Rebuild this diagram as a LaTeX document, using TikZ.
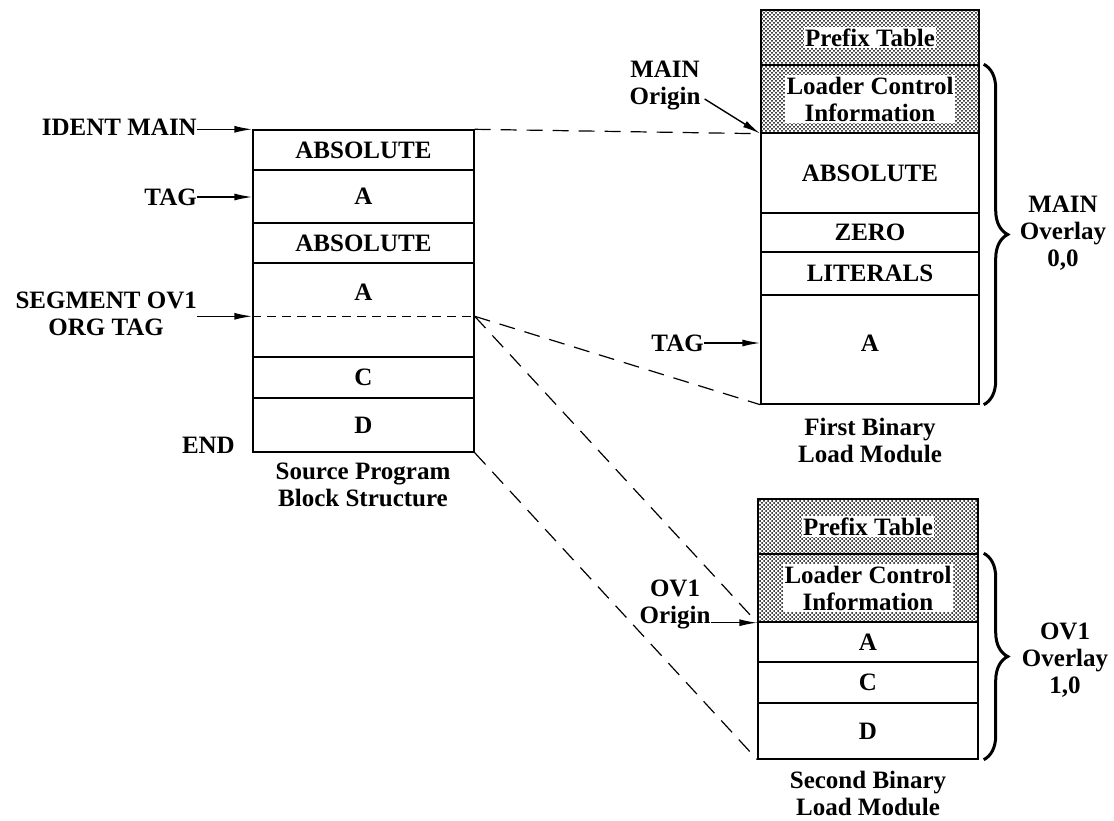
\documentclass[tikz,border=0pt]{standalone}
\usepackage{fontspec}
\setmainfont{Liberation Serif}
\usepackage{tikz}
\usetikzlibrary{arrows.meta,positioning,patterns,decorations.pathreplacing}
\pgfdeclarepatternformonly{scrdots}{\pgfqpoint{-1pt}{-1pt}}{\pgfqpoint{5pt}{5pt}}{\pgfqpoint{4pt}{4pt}}{%
  \pgfpathcircle{\pgfqpoint{0pt}{0pt}}{1pt}%
  \pgfpathcircle{\pgfqpoint{2pt}{2pt}}{1pt}%
  \pgfusepath{fill}}

\begin{document}
\begin{tikzpicture}[x=1pt, y=-1pt, >={Latex[length=18pt,width=7pt]},
    font=\fontsize{25}{27}\selectfont\bfseries,
    cell/.style={draw, line width=1.4pt, minimum width=220pt, inner sep=0pt},
    shaded/.style={cell, pattern=scrdots},
    boxtext/.style={fill=white, inner sep=1.5pt, align=center},
    lbl/.style={align=center, inner sep=0pt},
    arr/.style={->, line width=1.4pt},
    link/.style={line width=1.2pt, dash pattern=on 16pt off 10pt},
    brc/.style={decorate, decoration={brace, amplitude=24pt}, line width=3pt}]
    \useasboundingbox (0,0) rectangle (1114,821);

    % source program blocks
    \node [cell, minimum width=221pt, minimum height=40pt] (s1) at (363.5,150) {ABSOLUTE};
    \node [cell, minimum width=221pt, minimum height=53pt] (s2) at (363.5,196.5) {A};
    \node [cell, minimum width=221pt, minimum height=40pt] (s3) at (363.5,243) {ABSOLUTE};
    \node [cell, minimum width=221pt, minimum height=94pt] (s4) at (363.5,310) {};
    \node [lbl] (s4t) at (363.5,292) {A};
    \node [cell, minimum width=221pt, minimum height=41pt] (s5) at (363.5,377.5) {C};
    \node [cell, minimum width=221pt, minimum height=54pt] (s6) at (363.5,425) {D};
    \coordinate (segL) at ([yshift=-54pt]s4.north west);
    \coordinate (segR) at ([yshift=-54pt]s4.north east);
    \draw [line width=1pt, dash pattern=on 9pt off 6pt] (segL) -- (segR);

    \node [lbl, anchor=east] (ident) at (197,127) {IDENT MAIN};
    \node [lbl, anchor=east] (tagA) at (197,197) {TAG};
    \node [lbl, anchor=east] (seg) at (197,314) {SEGMENT OV1\\ORG TAG};
    \node [lbl, anchor=east] (endl) at (235,445) {END};
    \node [lbl] (cap0) at (363,485) {Source Program\\Block Structure};

    \draw [arr] (ident.east |- s1.north west) -- (s1.north west);
    \draw [arr] (tagA.east) -- (tagA.east -| s2.west);
    \draw [arr] (seg.east |- segL) -- (segL);

    % first binary load module
    \node [shaded, minimum width=218pt, minimum height=55pt] (p1) at (870,37.5) {};
    \node [boxtext] (p1t) at (p1) {Prefix Table};
    \node [shaded, minimum width=218pt, minimum height=68pt] (p2) at (870,99) {};
    \node [boxtext] (p2t) at (p2) {Loader Control\\Information};
    \node [cell, minimum width=218pt, minimum height=80pt] (m1) at (870,173) {ABSOLUTE};
    \node [cell, minimum width=218pt, minimum height=39pt] (m2) at (870,232.5) {ZERO};
    \node [cell, minimum width=218pt, minimum height=43pt] (m3) at (870,273.5) {LITERALS};
    \node [cell, minimum width=218pt, minimum height=109pt] (m4) at (870,349.5) {};
    \node [lbl] (m4t) at (870,343) {A};
    \node [lbl] (cap1) at (870,440) {First Binary\\Load Module};

    \node [lbl] (mainorg) at (665,86) {MAIN\\Origin};
    \node [lbl, anchor=east] (tagB) at (704,343) {TAG};
    \draw [arr] ([xshift=4pt,yshift=-13pt]mainorg.east) -- (p2.south west);
    \draw [arr] (tagB.east) -- (tagB.east -| m4.west);

    \draw [brc] ([xshift=4pt]p2.north east) -- ([xshift=4pt]m4.south east);
    \node [lbl] (ovl0) at (1063,233) {MAIN\\Overlay\\0,0};

    % second binary load module
    \node [shaded, minimum height=55pt] (q1) at (868,526.5) {};
    \node [boxtext] (q1t) at (q1) {Prefix Table};
    \node [shaded, minimum height=68pt] (q2) at (868,588) {};
    \node [boxtext] (q2t) at (q2) {Loader Control\\Information};
    \node [cell, minimum height=40pt] (o1) at (868,642) {A};
    \node [cell, minimum height=41pt] (o2) at (868,682.5) {C};
    \node [cell, minimum height=56pt] (o3) at (868,731) {D};
    \node [lbl] (cap2) at (868,793) {Second Binary\\Load Module};

    \node [lbl] (ov1org) at (675,604) {OV1\\Origin};
    \draw [arr] (ov1org.east |- q2.south west) -- (q2.south west);

    \draw [brc] ([xshift=5pt]q2.north east) -- ([xshift=5pt]o3.south east);
    \node [lbl] (ovl1) at (1065,660) {OV1\\Overlay\\1,0};

    % dashed mapping lines
    \draw [link] (s1.north east) -- (p2.south west);
    \draw [link] (segR) -- (m4.south west);
    \draw [link] (segR) -- (q2.south west);
    \draw [link] (s6.south east) -- (o3.south west);
\end{tikzpicture}
\end{document}
